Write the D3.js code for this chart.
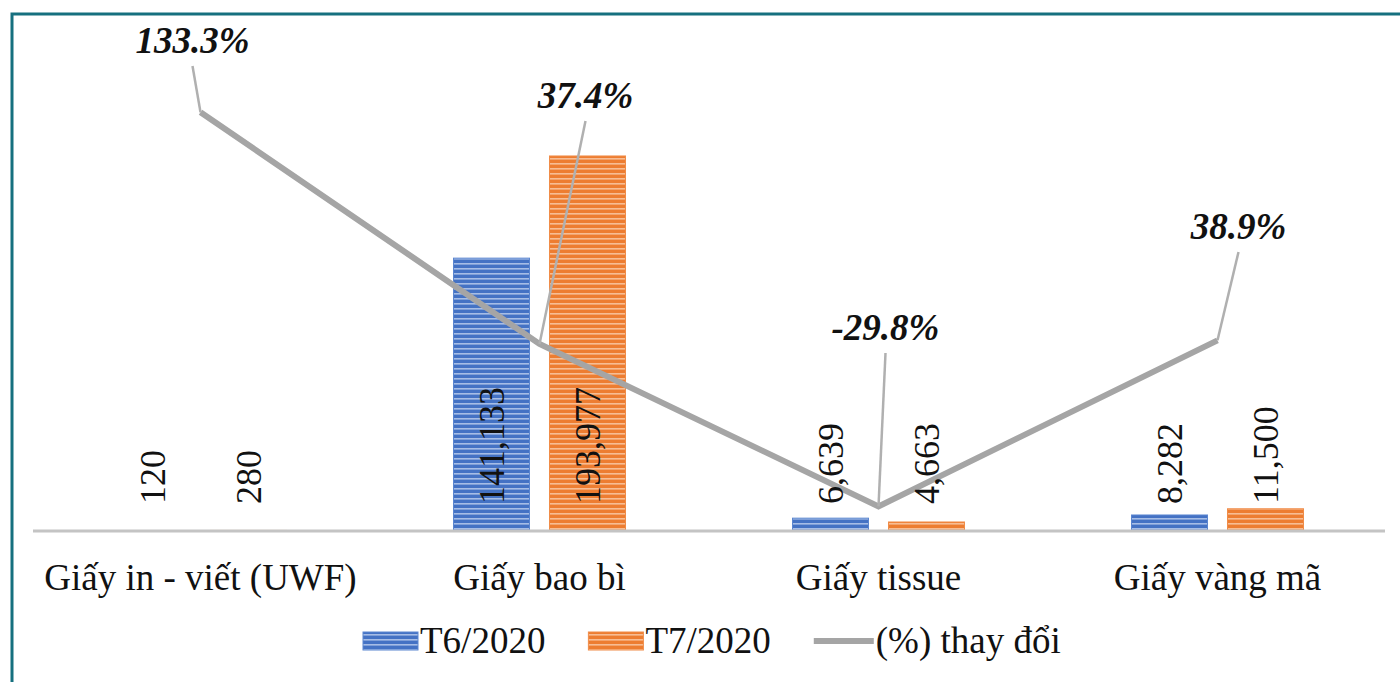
<!DOCTYPE html>
<html>
<head>
<meta charset="utf-8">
<script src="https://cdn.jsdelivr.net/npm/d3@7"></script>
<style>
  body { margin: 0; background: #fff; }
  svg { display: block; font-family: "Liberation Serif", "Times New Roman", serif; }
</style>
</head>
<body>
<svg id="chart" width="1400" height="682"></svg>
<script>
// data
var categories = ["Giấy in - viết (UWF)", "Giấy bao bì", "Giấy tissue", "Giấy vàng mã"];
var seriesNames = ["T6/2020", "T7/2020"];
var t6 = [120, 141133, 6639, 8282];
var t7 = [280, 193977, 4663, 11500];
var pctChange = [133.3, 37.4, -29.8, 38.9];
var pctName = "(%) thay đổi";

var svg = d3.select("#chart");
var W = 1400, H = 682;
var base = 531, plotTop = 96;

// frame
svg.append("rect")
  .attr("x", 12).attr("y", 14)
  .attr("width", W + 20).attr("height", H + 20)
  .attr("fill", "none").attr("stroke", "#16707f").attr("stroke-width", 3);

// stripe patterns
var defs = svg.append("defs");
function stripes(id, fill, light) {
  var p = defs.append("pattern").attr("id", id)
    .attr("patternUnits", "userSpaceOnUse").attr("width", 8).attr("height", 5);
  p.append("rect").attr("width", 8).attr("height", 5).attr("fill", fill);
  p.append("rect").attr("y", 3).attr("width", 8).attr("height", 1.6).attr("fill", light);
}
stripes("blueStripe", "#4472c4", "#a6bde6");
stripes("orangeStripe", "#ed7d31", "#f7bd94");

var x = d3.scaleBand().domain(categories).range([31, 1387]).padding(0);
var yBar = d3.scaleLinear().domain([0, 225000]).range([base, plotTop]);
var yPct = d3.scaleLinear().domain([-40, 140]).range([base, plotTop]);

var barW = 76, gap = 20;
var series = [
  { name: seriesNames[0], values: t6, fill: "url(#blueStripe)", edge: "#5b86d0", off: -(barW + gap) / 2 },
  { name: seriesNames[1], values: t7, fill: "url(#orangeStripe)", edge: "#f08c48", off: (barW + gap) / 2 }
];
function cx(c) { return x(c) + x.bandwidth() / 2; }

series.forEach(function(s) {
  var g = svg.append("g");
  g.selectAll("rect").data(categories).enter().append("rect")
    .attr("x", function(c) { return cx(c) + s.off - barW / 2; })
    .attr("y", function(c, i) { return yBar(s.values[i]); })
    .attr("width", barW)
    .attr("height", function(c, i) { return base - yBar(s.values[i]); })
    .attr("fill", s.fill)
    .attr("stroke", s.edge).attr("stroke-width", 1);
});

// axis line
svg.append("line")
  .attr("x1", 33).attr("x2", 1385).attr("y1", base).attr("y2", base)
  .attr("stroke", "#c4c4c4").attr("stroke-width", 3);

// category labels
svg.append("g").selectAll("text").data(categories).enter().append("text")
  .attr("x", cx).attr("y", 590)
  .attr("text-anchor", "middle")
  .attr("font-size", 37)
  .attr("fill", "#111")
  .text(function(d) { return d; });

// percent line
var line = d3.line()
  .x(function(d, i) { return cx(categories[i]); })
  .y(function(d) { return yPct(d); });
svg.append("path").datum(pctChange)
  .attr("d", line)
  .attr("fill", "none").attr("stroke", "#a5a5a5").attr("stroke-width", 6)
  .attr("stroke-linejoin", "miter");

// bar value labels (rotated, inside base)
var fmt = d3.format(",");
series.forEach(function(s) {
  svg.append("g").selectAll("text").data(categories).enter().append("text")
    .attr("transform", function(c) {
      return "translate(" + (cx(c) + s.off + 12) + "," + (base - 27) + ") rotate(-90)";
    })
    .attr("font-size", 36)
    .attr("fill", "#111")
    .text(function(c, i) { return fmt(s.values[i]); });
});

// percent labels with leader lines
var labelPos = [
  { dx: -8, ly: 53 },
  { dx: 46, ly: 108 },
  { dx: 7, ly: 340 },
  { dx: 21, ly: 239 }
];
var pg = svg.append("g");
pctChange.forEach(function(v, i) {
  var px = cx(categories[i]), py = yPct(v);
  var lx = px + labelPos[i].dx, ly = labelPos[i].ly;
  pg.append("line")
    .attr("x1", px).attr("y1", py)
    .attr("x2", lx).attr("y2", ly + 13)
    .attr("stroke", "#b0b0b0").attr("stroke-width", 2.5);
  pg.append("text")
    .attr("x", lx).attr("y", ly)
    .attr("text-anchor", "middle")
    .attr("font-size", 37).attr("font-weight", "bold").attr("font-style", "italic")
    .attr("fill", "#111")
    .text(v.toFixed(1) + "%");
});

// legend
var lg = svg.append("g").attr("transform", "translate(0,641)");
var items = [
  { name: seriesNames[0], type: "bar", fill: "url(#blueStripe)", edge: "#5b86d0" },
  { name: seriesNames[1], type: "bar", fill: "url(#orangeStripe)", edge: "#f08c48" },
  { name: pctName, type: "line" }
];
var lx = 363;
items.forEach(function(it) {
  if (it.type === "bar") {
    lg.append("rect").attr("x", lx).attr("y", -9).attr("width", 55).attr("height", 18)
      .attr("fill", it.fill).attr("stroke", it.edge);
    lx += 57;
  } else {
    lg.append("line").attr("x1", lx).attr("x2", lx + 60).attr("y1", 0).attr("y2", 0)
      .attr("stroke", "#a5a5a5").attr("stroke-width", 6);
    lx += 62;
  }
  var t = lg.append("text").attr("x", lx).attr("y", 12)
    .attr("font-size", 37).attr("fill", "#111").text(it.name);
  lx += t.node().getComputedTextLength() + 43;
});
</script>
</body>
</html>
